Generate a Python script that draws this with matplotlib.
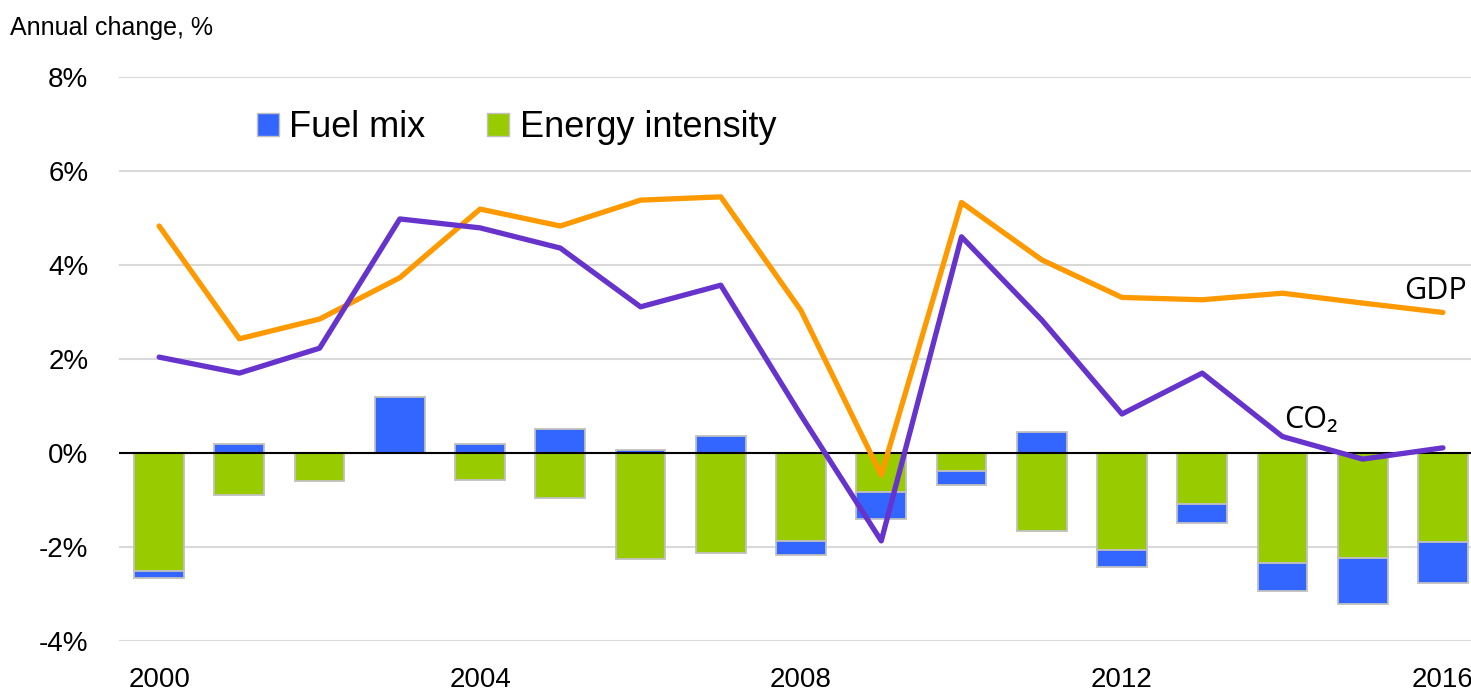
"""Annual change in GDP, CO2 and decomposition (fuel mix / energy intensity)."""
import numpy as np
import matplotlib.pyplot as plt
from matplotlib.patches import Patch

# -------------------------------------------------------
# Data.
# -------------------------------------------------------
years = np.arange(2000, 2017)
energy_intensity = [-2.50, -0.89, -0.59, 0.00, -0.57, -0.96, -2.25, -2.13, -1.87,
                    -0.82, -0.38, -1.67, -2.06, -1.09, -2.35, -2.23, -1.89]
fuel_mix = [-0.15, 0.19, 0.00, 1.20, 0.19, 0.51, 0.06, 0.36, -0.30,
            -0.59, -0.30, 0.45, -0.36, -0.39, -0.59, -0.98, -0.88]
gdp = [4.83, 2.43, 2.85, 3.73, 5.19, 4.83, 5.38, 5.45, 3.03,
       -0.47, 5.33, 4.11, 3.31, 3.26, 3.40, 3.19, 2.99]
co2 = [2.04, 1.70, 2.23, 4.98, 4.79, 4.36, 3.11, 3.57, 0.80,
       -1.87, 4.60, 2.83, 0.83, 1.70, 0.35, -0.13, 0.11]
ytick_vals = [-4, -2, 0, 2, 4, 6, 8]
xtick_years = [2000, 2004, 2008, 2012, 2016]

# -------------------------------------------------------
# Plot setup.
# -------------------------------------------------------
blue = "#3366ff"
green = "#99cc00"
orange = "#ff9900"
purple = "#6633cc"
edge = "#c0c0c0"
label_font = ["Open Sans", "DejaVu Sans"]
tick_font = "Liberation Sans"

fig = plt.figure(figsize=(14.71, 6.98), dpi=100)
ax = fig.add_axes([119 / 1471, 1 - 641 / 698, 1 - 119 / 1471, (641 - 77) / 698])

x = np.arange(len(years))
ei = np.array(energy_intensity)
fm = np.array(fuel_mix)
# stack fuel mix below energy intensity when both negative
fm_bottom = np.where((fm < 0) & (ei < 0), ei, 0)

ax.bar(x, ei, width=0.62, color=green, edgecolor=edge, linewidth=1.3, zorder=2)
ax.bar(x, fm, bottom=fm_bottom, width=0.62, color=blue, edgecolor=edge,
       linewidth=1.3, zorder=2)
ax.axhline(0, color="black", linewidth=1.5, zorder=3)

ax.plot(x, gdp, color=orange, linewidth=3.8, zorder=4, solid_capstyle="round")
ax.plot(x, co2, color=purple, linewidth=3.8, zorder=5, solid_capstyle="round")

ax.text(16.3, 3.45, "GDP", fontsize=22, family=label_font, ha="right", va="center")
ax.text(14.35, 0.7, "CO₂", fontsize=22, family=label_font, ha="center", va="center")

# axes styling
ax.set_xlim(-0.5, 16.35)
ax.set_ylim(-4, 8)
ax.set_yticks(ytick_vals)
ax.set_yticklabels(["%d%%" % v for v in ytick_vals], fontsize=20, family=tick_font)
ax.set_xticks([y - 2000 for y in xtick_years])
ax.set_xticklabels([str(y) for y in xtick_years], fontsize=20, family=tick_font)
ax.tick_params(axis="both", length=0)
ax.tick_params(axis="y", pad=22)
ax.tick_params(axis="x", pad=19)
ax.yaxis.grid(True, color="#d9d9d9", linewidth=1.5, zorder=0)
ax.set_axisbelow(True)
for s in ax.spines.values():
    s.set_visible(False)

fig.text(10 / 1471, 1 - 28 / 698, "Annual change, %", fontsize=18, family=tick_font,
         ha="left", va="center")

handles = [Patch(facecolor=blue, edgecolor=edge),
           Patch(facecolor=green, edgecolor=edge)]
ax.legend(handles, ["Fuel mix", "Energy intensity"], loc="center left",
          bbox_to_anchor=(0.078, 0.91), ncol=2, frameon=False,
          prop={"family": "Liberation Sans", "size": 26},
          handlelength=0.6, handleheight=0.6, handletextpad=0.3, columnspacing=1.7)

plt.savefig("out.png", dpi=100)
plt.close()
